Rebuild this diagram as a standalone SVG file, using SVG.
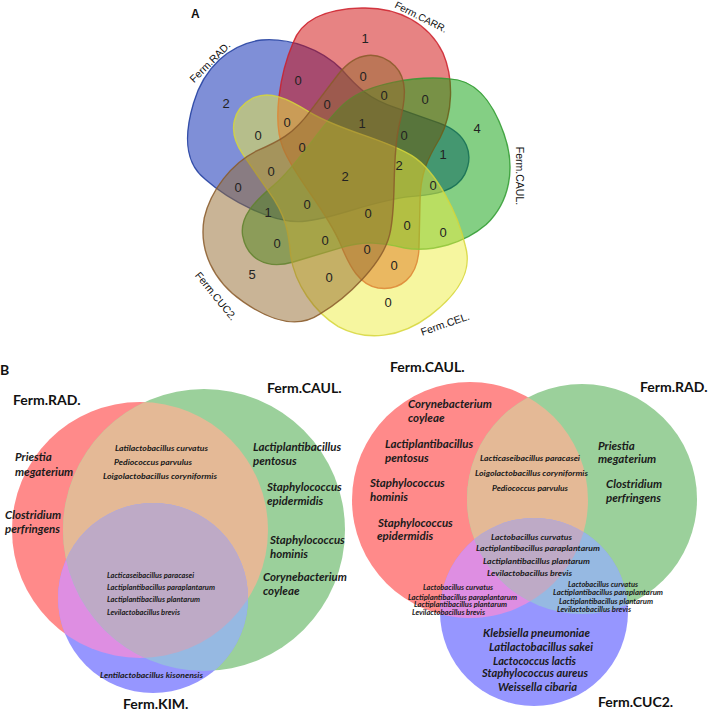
<svg xmlns="http://www.w3.org/2000/svg" width="709" height="712" viewBox="0 0 709 712">
<style>
.num{font-family:"Liberation Sans",Arial,sans-serif;font-size:13px;fill:#222;text-anchor:middle}
.lblA{font-family:"Liberation Sans",Arial,sans-serif;font-size:10.5px;fill:#111;text-anchor:middle}
.hdr{font-family:Lato,"Liberation Sans",sans-serif;font-weight:bold;font-size:14px;fill:#111}
.sp{font-family:Lato,"Liberation Sans",sans-serif;font-weight:bold;font-style:italic;font-size:11.5px;fill:#1a1a1a}
.ss{font-family:Lato,"Liberation Sans",sans-serif;font-weight:bold;font-style:italic;font-size:7.5px;fill:#1a1a1a}
.set{fill-opacity:0.5;stroke-width:1.4;stroke-opacity:0.85}
</style>
<defs>
<path id="shape" d="M -44,-124 C -36,-146 -15,-158 25,-159 C 62,-160 92,-143 106,-114 C 117,-88 116,-54 103,-29 C 91,-9 83,6 83,36 L 82,81 C 81,111 63,124 41,121 C 23,118 13,101 3,76 C -12,41 -42,11 -54,-19 C -65,-46 -57,-94 -44,-124 Z"/>
<clipPath id="cR1"><circle cx="140" cy="530" r="128"/></clipPath>
<clipPath id="cG1"><circle cx="204" cy="530" r="141"/></clipPath>
<clipPath id="cR2"><circle cx="470" cy="500" r="118"/></clipPath>
<clipPath id="cG2"><circle cx="582" cy="499" r="115"/></clipPath>
</defs>
<rect width="709" height="712" fill="#fff"/>

<!-- Panel A -->
<text x="191" y="18" style="font-family:'Liberation Sans',Arial,sans-serif;font-weight:bold;font-size:12px;fill:#111">A</text>
<g id="setRAD"><use href="#shape" class="set" transform="translate(337,176) rotate(-72)" fill="#0020b0" stroke="#1f3c9e"/></g>
<g id="setCARR"><use href="#shape" class="set" transform="translate(337,167)" fill="#d00808" stroke="#cc1f2a"/></g>
<g id="setCAUL"><use href="#shape" class="set" transform="translate(345,159) rotate(72)" fill="#0aa00a" stroke="#2f9a2f"/></g>
<g id="setCEL"><use href="#shape" class="set" transform="translate(357,172) rotate(144)" fill="#eeee40" stroke="#d6d63a"/></g>
<g id="setCUC2"><use href="#shape" class="set" transform="translate(357,188) rotate(-144)" fill="#946a2e" stroke="#8a5a2a"/></g>
<g id="labelsA">
<text class="lblA" transform="translate(210,62) rotate(-45)" dy="0.35em">Ferm.RAD.</text>
<text class="lblA" transform="translate(421,17) rotate(27)" dy="0.35em" style="font-size:10px">Ferm.CARR.</text>
<text class="lblA" transform="translate(520,176) rotate(90)" dy="0.35em">Ferm.CAUL.</text>
<text class="lblA" transform="translate(445,324) rotate(-19)" dy="0.35em">Ferm.CEL.</text>
<text class="lblA" transform="translate(216,296) rotate(51)" dy="0.35em">Ferm.CUC2.</text>
</g>
<g id="countsA">
<text class="num" x="365" y="43">1</text>
<text class="num" x="298" y="85">0</text>
<text class="num" x="363" y="81">0</text>
<text class="num" x="226" y="108">2</text>
<text class="num" x="327" y="109">0</text>
<text class="num" x="384" y="100">0</text>
<text class="num" x="425" y="104">0</text>
<text class="num" x="287" y="127">0</text>
<text class="num" x="362" y="128">1</text>
<text class="num" x="477" y="133">4</text>
<text class="num" x="258" y="140">0</text>
<text class="num" x="404" y="140">0</text>
<text class="num" x="302" y="152">0</text>
<text class="num" x="443" y="159">1</text>
<text class="num" x="399" y="170">2</text>
<text class="num" x="271" y="176">0</text>
<text class="num" x="345" y="181">2</text>
<text class="num" x="238" y="192">0</text>
<text class="num" x="433" y="190">0</text>
<text class="num" x="307" y="209">0</text>
<text class="num" x="268" y="217">1</text>
<text class="num" x="368" y="218">0</text>
<text class="num" x="407" y="230">0</text>
<text class="num" x="443" y="237">0</text>
<text class="num" x="277" y="248">0</text>
<text class="num" x="325" y="245">0</text>
<text class="num" x="367" y="254">0</text>
<text class="num" x="252" y="279">5</text>
<text class="num" x="329" y="282">0</text>
<text class="num" x="394" y="270">0</text>
<text class="num" x="388" y="307">0</text>
</g>

<!-- Panel B left -->
<text x="0" y="375" style="font-family:Lato,'Liberation Sans',sans-serif;font-weight:bold;font-size:14px;fill:#111">B</text>
<g id="circRAD1"><circle cx="140" cy="530" r="128" fill="#ff8a8a"/></g>
<g id="circCAUL1"><circle cx="204" cy="530" r="141" fill="#9bd09b"/></g>
<g id="circKIM1"><circle cx="153" cy="598" r="95" fill="#9696ff"/></g>
<g id="overlaps1">
<circle cx="204" cy="530" r="141" fill="#e4b996" clip-path="url(#cR1)"/>
<circle cx="153" cy="598" r="95" fill="#de8ee2" clip-path="url(#cR1)"/>
<circle cx="153" cy="598" r="95" fill="#96b9e2" clip-path="url(#cG1)"/>
<g clip-path="url(#cR1)"><circle cx="153" cy="598" r="95" fill="#beaac6" clip-path="url(#cG1)"/></g>
</g>
<g id="textB1">
<text class="hdr" x="13" y="405">Ferm.RAD.</text>
<text class="hdr" x="267" y="393">Ferm.CAUL.</text>
<text class="hdr" x="123" y="709">Ferm.KIM.</text>
<text class="sp" x="15" y="461">Priestia</text>
<text class="sp" x="15" y="476">megaterium</text>
<text class="sp" x="5" y="519">Clostridium</text>
<text class="sp" x="5" y="533">perfringens</text>
<text class="ss" x="115" y="450.5" textLength="93" lengthAdjust="spacingAndGlyphs">Latilactobacillus curvatus</text>
<text class="ss" x="114" y="464.5" textLength="78" lengthAdjust="spacingAndGlyphs">Pediococcus parvulus</text>
<text class="ss" x="103" y="478.5" textLength="114" lengthAdjust="spacingAndGlyphs">Loigolactobacillus coryniformis</text>
<text class="sp" x="253" y="451">Lactiplantibacillus</text>
<text class="sp" x="253" y="465">pentosus</text>
<text class="sp" x="267" y="491">Staphylococcus</text>
<text class="sp" x="267" y="505">epidermidis</text>
<text class="sp" x="270" y="544">Staphylococcus</text>
<text class="sp" x="270" y="558">hominis</text>
<text class="sp" x="263" y="581">Corynebacterium</text>
<text class="sp" x="263" y="595">coyleae</text>
<text class="ss" x="107" y="577.5" textLength="87" lengthAdjust="spacingAndGlyphs" style="font-size:7px">Lacticaseibacillus paracasei</text>
<text class="ss" x="107" y="589.5" textLength="108" lengthAdjust="spacingAndGlyphs" style="font-size:7px">Lactiplantibacillus paraplantarum</text>
<text class="ss" x="107" y="601.5" textLength="93" lengthAdjust="spacingAndGlyphs" style="font-size:7px">Lactiplantibacillus plantarum</text>
<text class="ss" x="107" y="614.5" textLength="73" lengthAdjust="spacingAndGlyphs" style="font-size:7px">Levilactobacillus brevis</text>
<text class="ss" x="100" y="678" textLength="103" lengthAdjust="spacingAndGlyphs">Lentilactobacillus kisonensis</text>
</g>

<!-- Panel B right -->
<g id="circCAUL2"><circle cx="470" cy="500" r="118" fill="#ff8a8a"/></g>
<g id="circRAD2"><circle cx="582" cy="499" r="115" fill="#9bd09b"/></g>
<g id="circCUC2"><circle cx="534" cy="612" r="94" fill="#9696ff"/></g>
<g id="overlaps2">
<circle cx="582" cy="499" r="115" fill="#e4b996" clip-path="url(#cR2)"/>
<circle cx="534" cy="612" r="94" fill="#de8ee2" clip-path="url(#cR2)"/>
<circle cx="534" cy="612" r="94" fill="#96b9e2" clip-path="url(#cG2)"/>
<g clip-path="url(#cR2)"><circle cx="534" cy="612" r="94" fill="#beaac6" clip-path="url(#cG2)"/></g>
</g>
<g id="textB2">
<text class="hdr" x="390" y="372">Ferm.CAUL.</text>
<text class="hdr" x="640" y="392">Ferm.RAD.</text>
<text class="hdr" x="598" y="707">Ferm.CUC2.</text>
<text class="sp" x="408" y="408">Corynebacterium</text>
<text class="sp" x="408" y="422">coyleae</text>
<text class="sp" x="385" y="448">Lactiplantibacillus</text>
<text class="sp" x="385" y="462">pentosus</text>
<text class="sp" x="370" y="487">Staphylococcus</text>
<text class="sp" x="370" y="501">hominis</text>
<text class="sp" x="378" y="527">Staphylococcus</text>
<text class="sp" x="377" y="540">epidermidis</text>
<text class="ss" x="480" y="460.5" textLength="100" lengthAdjust="spacingAndGlyphs">Lacticaseibacillus paracasei</text>
<text class="ss" x="475" y="475.5" textLength="113" lengthAdjust="spacingAndGlyphs">Loigolactobacillus coryniformis</text>
<text class="ss" x="492" y="490.5" textLength="76" lengthAdjust="spacingAndGlyphs">Pediococcus parvulus</text>
<text class="sp" x="598" y="450">Priestia</text>
<text class="sp" x="598" y="463">megaterium</text>
<text class="sp" x="606" y="488">Clostridium</text>
<text class="sp" x="606" y="502">perfringens</text>
<text class="ss" x="491" y="539.5" textLength="81" lengthAdjust="spacingAndGlyphs" style="font-size:8px">Lactobacillus curvatus</text>
<text class="ss" x="476" y="550.5" textLength="124" lengthAdjust="spacingAndGlyphs" style="font-size:8px">Lactiplantibacillus paraplantarum</text>
<text class="ss" x="483" y="563.5" textLength="107" lengthAdjust="spacingAndGlyphs" style="font-size:8px">Lactiplantibacillus plantarum</text>
<text class="ss" x="487" y="575.5" textLength="85" lengthAdjust="spacingAndGlyphs" style="font-size:8px">Levilactobacillus brevis</text>
<text class="ss" x="423" y="590" textLength="70" lengthAdjust="spacingAndGlyphs" style="font-size:6.5px">Lactobacillus curvatus</text>
<text class="ss" x="408" y="600" textLength="109" lengthAdjust="spacingAndGlyphs" style="font-size:6.5px">Lactiplantibacillus paraplantarum</text>
<text class="ss" x="414" y="606.5" textLength="93" lengthAdjust="spacingAndGlyphs" style="font-size:6.5px">Lactiplantibacillus plantarum</text>
<text class="ss" x="412" y="615" textLength="73" lengthAdjust="spacingAndGlyphs" style="font-size:6.5px">Levilactobacillus brevis</text>
<text class="ss" x="568" y="587" textLength="70" lengthAdjust="spacingAndGlyphs" style="font-size:6.5px">Lactobacillus curvatus</text>
<text class="ss" x="553" y="595" textLength="110" lengthAdjust="spacingAndGlyphs" style="font-size:6.5px">Lactiplantibacillus paraplantarum</text>
<text class="ss" x="559" y="604" textLength="94" lengthAdjust="spacingAndGlyphs" style="font-size:6.5px">Lactiplantibacillus plantarum</text>
<text class="ss" x="557" y="612" textLength="74" lengthAdjust="spacingAndGlyphs" style="font-size:6.5px">Levilactobacillus brevis</text>
<text class="sp" x="483" y="637" textLength="107" lengthAdjust="spacingAndGlyphs">Klebsiella pneumoniae</text>
<text class="sp" x="489" y="651" textLength="104" lengthAdjust="spacingAndGlyphs">Latilactobacillus sakei</text>
<text class="sp" x="493" y="665" textLength="83" lengthAdjust="spacingAndGlyphs">Lactococcus lactis</text>
<text class="sp" x="482" y="677" textLength="106" lengthAdjust="spacingAndGlyphs">Staphylococcus aureus</text>
<text class="sp" x="498" y="691" textLength="79" lengthAdjust="spacingAndGlyphs">Weissella cibaria</text>
</g>
</svg>
